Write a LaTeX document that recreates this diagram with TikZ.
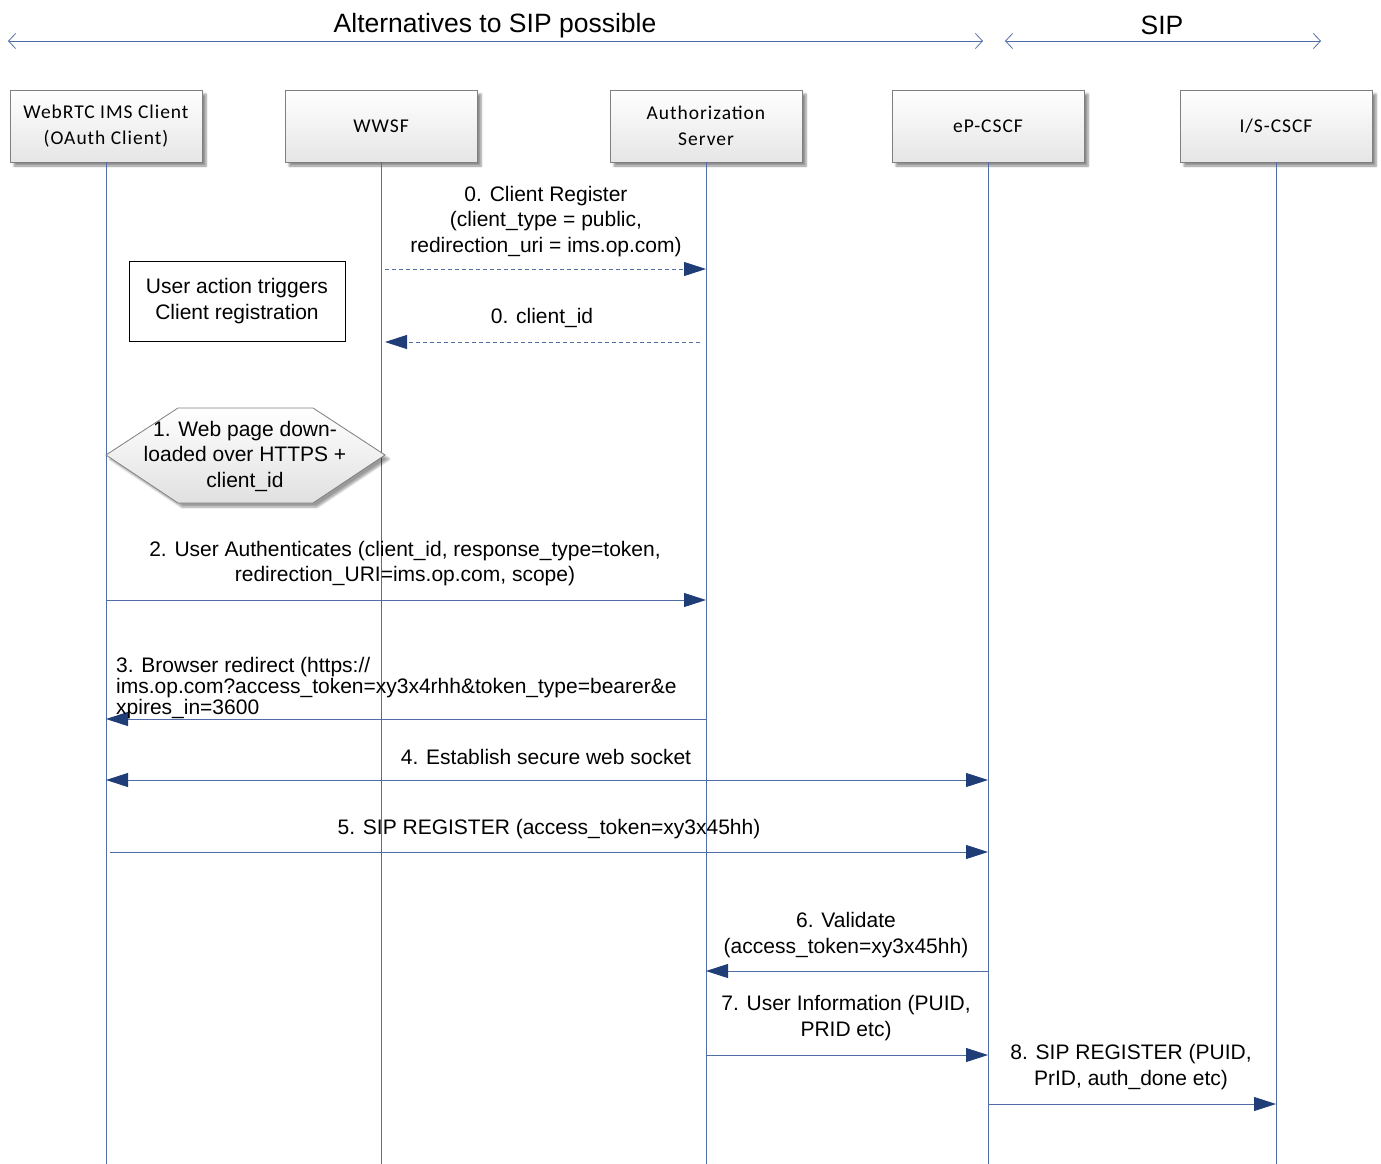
\documentclass[tikz,border=0pt]{standalone}
\usepackage{fontspec}
\setmainfont{Liberation Sans}
\newfontfamily\boxfont{Carlito}[LetterSpace=5]
\usetikzlibrary{arrows.meta,shadows.blur}
\definecolor{lifeblue}{HTML}{4F6EA5}
\definecolor{tipblue}{HTML}{1F3E78}
\definecolor{boxline}{HTML}{7F7F7F}
\begin{document}
\begin{tikzpicture}[x=1pt,y=-1pt,
  actor/.style={draw=boxline, line width=0.8pt, minimum width=192pt, minimum height=72pt,
    top color=white, bottom color=black!10, align=center,
    font=\boxfont\fontsize{19.5}{26}\selectfont,
    blur shadow={shadow xshift=4pt, shadow yshift=-4pt, shadow blur steps=6, shadow opacity=45}},
  life/.style={draw=lifeblue, line width=0.8pt},
  tip/.tip={Triangle[length=22pt,width=14pt,fill=tipblue,color=tipblue]},
  msg/.style={draw=lifeblue, line width=0.9pt, -tip},
  dmsg/.style={msg, dash pattern=on 4pt off 3pt},
  both/.style={draw=lifeblue, line width=0.9pt, tip-tip},
  span/.style={draw=lifeblue, line width=0.8pt, {Straight Barb[length=7pt,width=15pt]}-{Straight Barb[length=7pt,width=15pt]}},
  lbl/.style={align=center, font=\fontsize{21}{25.5}\selectfont, inner sep=0pt},
  spanlbl/.style={font=\fontsize{26.5}{30}\selectfont, inner sep=0pt}
]
\useasboundingbox (0,0) rectangle (1381,1164);

% scope labels and their extent arrows
\coordinate (altL) at (8,41);
\coordinate (altR) at (983,41);
\coordinate (sipL) at (1005,41);
\coordinate (sipR) at (1321,41);
\draw[span] (altL) -- (altR);
\draw[span] (sipL) -- (sipR);
\node[spanlbl] (altlbl) at (495,26) {Alternatives to SIP possible};
\node[spanlbl] (siplbl) at (1162,25) {SIP};

% participants
\node[actor] (client) at (106,126) {WebRTC IMS Client\\(OAuth Client)};
\node[actor] (wwsf)   at (381,126) {WWSF};
\node[actor] (auth)   at (706,126) {Authorization\\Server};
\node[actor] (epcscf) at (988,126) {eP-CSCF};
\node[actor] (iscscf) at (1276,126) {I/S-CSCF};

% lifelines
\foreach \p in {client,wwsf,auth,epcscf,iscscf}{
  \coordinate (\p-end) at (\p.south |- 0,1164);
  \draw[life] (\p.south) -- (\p-end);
}

% note box and web page download step
\node[draw=black, line width=0.8pt, fill=white, minimum width=216pt, minimum height=80pt,
  lbl] (note) at (237,301) {User action triggers\\Client registration};
\path[draw=boxline, line width=0.8pt, top color=white, bottom color=black!12,
  blur shadow={shadow xshift=4pt, shadow yshift=-4pt, shadow blur steps=6, shadow opacity=40}]
  (106,455) -- (178,408) -- (313,408) -- (385,455) -- (313,503) -- (178,503) -- cycle;
\node[lbl] (hexlbl) at (245,456) {1. Web page down-\\loaded over HTTPS +\\client\_id};

% message 0: client registration
\draw[dmsg] ([xshift=4pt]wwsf.south |- 0,269) -- (auth.south |- 0,269);
\node[lbl] (m0lbl) at (546,221.5) {0. Client Register\\(client\_type = public,\\redirection\_uri = ims.op.com)};
\draw[dmsg] ([xshift=-6pt]auth.south |- 0,342) -- ([xshift=4pt]wwsf.south |- 0,342);
\node[lbl] (m0blbl) at (542,318) {0. client\_id};

% message 2
\draw[msg] (client.south |- 0,600) -- (auth.south |- 0,600);
\node[lbl] (m2lbl) at (405,563.5) {2. User Authenticates (client\_id, response\_type=token,\\redirection\_URI=ims.op.com, scope)};

% message 3
\draw[msg] (auth.south |- 0,719) -- (client.south |- 0,719);
\node[lbl, align=left, anchor=north west, font=\fontsize{21}{21}\selectfont] (m3lbl) at (116,657)
  {3. Browser redirect (https://\\ims.op.com?access\_token=xy3x4rhh\&token\_type=bearer\&e\\xpires\_in=3600};

% message 4
\draw[both] (client.south |- 0,780) -- (epcscf.south |- 0,780);
\node[lbl] (m4lbl) at (546,757) {4. Establish secure web socket};

% message 5
\draw[msg] ([xshift=4pt]client.south |- 0,852) -- (epcscf.south |- 0,852);
\node[lbl] (m5lbl) at (549,829) {5. SIP REGISTER (access\_token=xy3x45hh)};

% message 6
\draw[msg] (epcscf.south |- 0,971) -- (auth.south |- 0,971);
\node[lbl] (m6lbl) at (846,935) {6. Validate\\(access\_token=xy3x45hh)};

% message 7
\draw[msg] (auth.south |- 0,1055) -- (epcscf.south |- 0,1055);
\node[lbl] (m7lbl) at (846,1018) {7. User Information (PUID,\\PRID etc)};

% message 8
\draw[msg] (epcscf.south |- 0,1104) -- (iscscf.south |- 0,1104);
\node[lbl] (m8lbl) at (1131,1067) {8. SIP REGISTER (PUID,\\PrID, auth\_done etc)};
\end{tikzpicture}
\end{document}
